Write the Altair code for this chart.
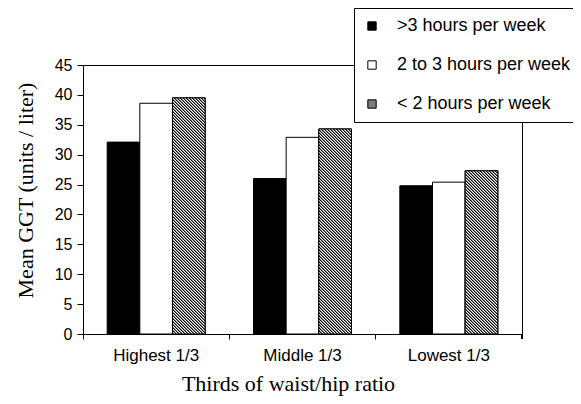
import altair as alt
import pandas as pd

# ---- data ----
categories = ["Highest 1/3", "Middle 1/3", "Lowest 1/3"]
series = [">3 hours per week", "2 to 3 hours per week", "< 2 hours per week"]
over3 = [32.1, 26.0, 24.8]
two_to_three = [38.6, 32.9, 25.4]
under2 = [39.5, 34.3, 27.3]
y_ticks = [0, 5, 10, 15, 20, 25, 30, 35, 40, 45]

rows = []
for i, c in enumerate(categories):
    for s, vals in zip(series, [over3, two_to_three, under2]):
        rows.append({"group": c, "series": s, "value": vals[i]})
df = pd.DataFrame(rows)

W, H = 439, 269
YMAX = 45
OFFSET_PAD = 0.74
BAR_W = (W / len(categories)) / (len(series) + 2 * OFFSET_PAD)
SANS = "Liberation Sans"
SERIF = "Liberation Serif"
HATCH_COLORS = ["black", "#808080", "white"]


def hatch(h, w=BAR_W):
    """Diagonal stripes (1 px per colour step along each row) as a hard-stop gradient."""
    span = w + h
    a = span / (w * w + h * h)
    stops = []
    j = 0
    while j / span < 1:
        o0 = j / span
        o1 = min((j + 1) / span, 1.0)
        col = HATCH_COLORS[j % len(HATCH_COLORS)]
        stops += [{"offset": o0, "color": col}, {"offset": o1, "color": col}]
        j += 1
    return {"gradient": "linear", "x1": 0, "y1": 1,
            "x2": a * w, "y2": 1 - a * h, "stops": stops}


x_enc = alt.X(
    "group:N", sort=categories,
    scale=alt.Scale(domain=categories, paddingInner=0, paddingOuter=0),
    axis=alt.Axis(
        title="Thirds of waist/hip ratio", titleFont=SERIF, titleFontSize=22,
        titleFontWeight="normal", titleColor="black",
        titleX=205, titleY=56, titleBaseline="alphabetic", titleAlign="center",
        labelAngle=0, labelFont=SANS, labelFontSize=17, labelColor="black",
        labelBaseline="alphabetic", labelPadding=21,
        tickSize=5, tickColor="black", domainColor="black", bandPosition=0,
    ),
)
xo_enc = alt.XOffset("series:N", sort=series,
                     scale=alt.Scale(domain=series, paddingInner=0, paddingOuter=OFFSET_PAD))
y_enc = alt.Y(
    "value:Q",
    scale=alt.Scale(domain=[0, YMAX], nice=False),
    axis=alt.Axis(
        values=y_ticks, grid=False,
        title="Mean GGT (units / liter)", titleFont=SERIF, titleFontSize=22,
        titleFontWeight="normal", titleColor="black", titleAngle=-90,
        titleX=-58, titleY=125, titleBaseline="middle", titleAlign="center",
        labelFont=SANS, labelFontSize=16, labelColor="black", labelPadding=5,
        tickSize=6, tickColor="black", domainColor="black",
    ),
)

color_enc = alt.Color(
    "series:N", sort=series,
    scale=alt.Scale(domain=series, range=["black", "white", "#7a7a7a"]),
    legend=alt.Legend(
        title=None, orient="none", legendX=271, legendY=-57, direction="vertical",
        strokeColor="black", fillColor="white", padding=9,
        labelFont=SANS, labelFontSize=18, labelColor="black", labelOffset=16,
        symbolType="square", symbolSize=70, symbolStrokeColor="black",
        symbolStrokeWidth=1, symbolOpacity=1, rowPadding=21, labelLimit=300,
    ),
)

base = alt.Chart(df).mark_bar(stroke="black", strokeWidth=1, opacity=1).encode(
    x=x_enc, xOffset=xo_enc, y=y_enc, color=color_enc
)

layers = [base]
for c, v in zip(categories, under2):
    h = v * H / YMAX
    layers.append(
        alt.Chart(df)
        .transform_filter((alt.datum.series == series[2]) & (alt.datum.group == c))
        .mark_bar(fill=hatch(h), stroke="black", strokeWidth=1, opacity=1)
        .encode(x=x_enc, xOffset=xo_enc, y=y_enc)
    )

# closing tick at the right end of the category axis
end_tick = alt.Chart(df).mark_rule(color="black", strokeWidth=1).encode(
    x=alt.value(W), y=alt.value(H), y2=alt.value(H + 5)
)
layers.append(end_tick)

chart = (
    alt.layer(*layers)
    .properties(
        width=W, height=H,
        autosize=alt.AutoSizeParams(type="none"),
        padding={"left": 75, "top": 57, "right": 51, "bottom": 62},
        background="white",
    )
    .configure_view(stroke="black", strokeWidth=1)
    .configure_axis(domainWidth=1, tickWidth=1)
)

chart.save("out.html", embed_options={"renderer": "svg", "actions": False})
